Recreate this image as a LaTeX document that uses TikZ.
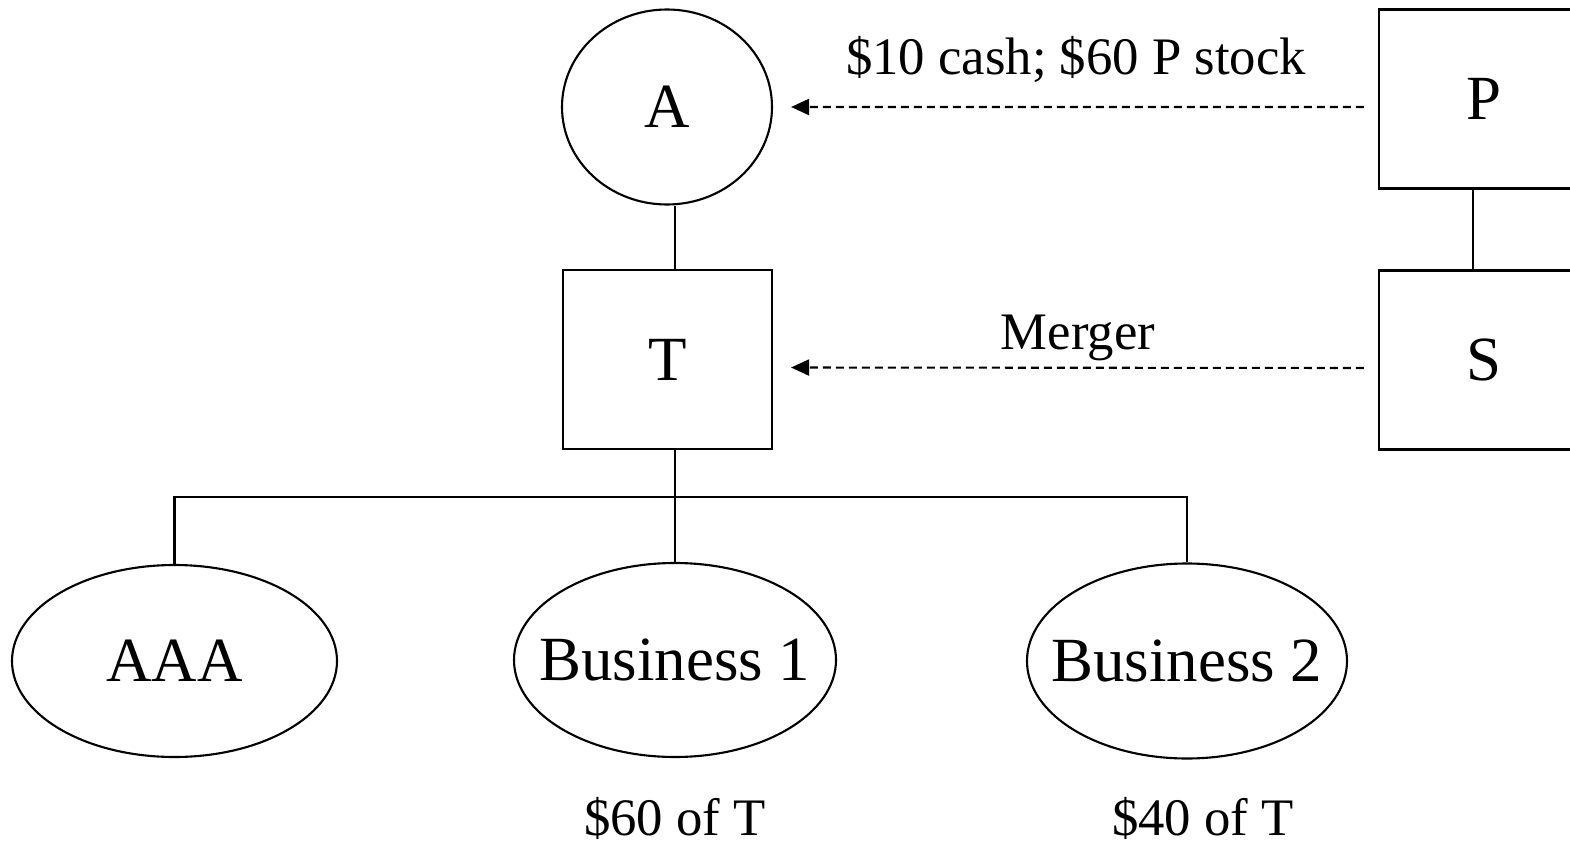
\documentclass[tikz,border=0pt]{standalone}
\usepackage{fontspec}
\setmainfont{Liberation Serif}
\usetikzlibrary{shapes, arrows.meta, positioning}

\begin{document}
\begin{tikzpicture}[line width=0.6pt,
    ent/.style={draw, ellipse, inner sep=0pt, inner xsep=-0.25cm, font=\fontsize{17.9}{21}\selectfont},
    corp/.style={draw, rectangle, minimum width=2.09cm, minimum height=1.79cm, font=\fontsize{17.9}{21}\selectfont},
    lbl/.style={anchor=base, font=\fontsize{15}{18}\selectfont},
    flow/.style={dash pattern=on 0.08cm off 0.05cm, -{Triangle[length=0.18cm, width=0.16cm]}, shorten >=0.18cm, shorten <=0.14cm}]
    \path[use as bounding box, clip] (0,0) rectangle (15.70,8.42);
    \node[ent, minimum width=2.10cm, minimum height=1.95cm] (A) at (6.67,7.35) {A};
    \node[corp] (T) at (6.675,4.825) {T};
    \node[corp, minimum width=2.10cm] (P) at (14.84,7.43) {P};
    \node[corp, minimum width=2.10cm] (S) at (14.84,4.82) {S};
    \node[ent, minimum width=3.25cm, minimum height=1.92cm] (AAA) at (1.745,1.81) {AAA};
    \node[ent, minimum width=3.22cm, minimum height=1.94cm] (B1) at (6.75,1.82) {Business 1};
    \node[ent, minimum width=3.20cm, minimum height=1.95cm] (B2) at (11.87,1.81) {Business 2};
    \coordinate (bar) at (6.75,3.45);
    \draw (A.south -| B1.north) -- (T.north -| B1.north);
    \draw (T.south -| B1.north) -- (B1.north);
    \draw (AAA.north) |- (bar) -| (B2.north);
    \draw ([xshift=-0.11cm]P.south) -- ([xshift=-0.11cm]S.north);
    \draw[flow] ([yshift=-0.08cm]P.west) -- (A.east);
    \draw[flow] ([yshift=-0.08cm]S.west) -- ([yshift=-0.08cm]T.east);
    \node[lbl] (cash) at (10.76,7.68) {\$10 cash; \$60 P stock};
    \node[lbl] (merger) at (10.78,4.93) {Merger};
    \node[lbl] (val1) at (6.75,0.07) {\$60 of T};
    \node[lbl] (val2) at (12.03,0.07) {\$40 of T};
\end{tikzpicture}
\end{document}
